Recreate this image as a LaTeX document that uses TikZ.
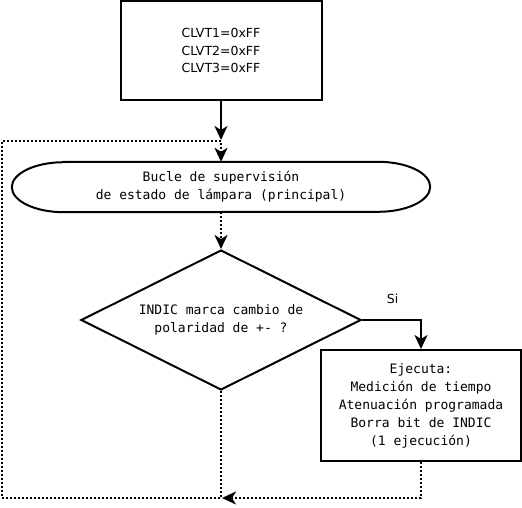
\documentclass[tikz,border=0pt]{standalone}
\usepackage{fontspec}
\usepackage{tikz}
\usetikzlibrary{shapes.geometric, shapes.misc, arrows.meta}
\usetikzlibrary{positioning}
\newfontfamily\monofont{DejaVu Sans Mono}
\newfontfamily\plainfont{DejaVu Sans}
\tikzset{font={\monofont\fontsize{13}{18}\selectfont}}
\tikzset{
	flow_line/.style={line width=2pt},
	flow_arrow/.style={flow_line, -{Stealth[length=14pt, width=13pt, inset=4pt]}},
	loop_line/.style={line width=2pt, dash pattern=on 2pt off 2pt},
	loop_arrow/.style={loop_line, -{Stealth[length=14pt, width=13pt, inset=4pt]}},
	block/.style={rectangle, draw, line width=2pt, align=center, inner sep=0pt}
}

\begin{document}
\begin{tikzpicture}[x=1pt, y=1pt]

	\useasboundingbox (0,0) rectangle (522,-508);

	
	\node (init_box) [block, minimum width=201, minimum height=99, font={\plainfont\fontsize{12.5}{17.5}\selectfont}] at (221,-50.5) {CLVT1=0xFF\\CLVT2=0xFF\\CLVT3=0xFF};

	
	\node (main_loop) [align=center, minimum width=418, minimum height=50, inner sep=0pt] at (221,-187) {Bucle de supervisión\\de estado de lámpara (principal)};

	\draw[flow_line] ([xshift=52]main_loop.north west)

	-- ([xshift=-52]main_loop.north east)

	arc[start angle=90, end angle=-90, x radius=52, y radius=25]

	-- ([xshift=52]main_loop.south west)

	arc[start angle=270, end angle=90, x radius=52, y radius=25]

	-- cycle;

	
	\node (polarity_check) [diamond, draw, line width=2pt, align=center, inner sep=0pt, minimum width=280, minimum height=140, aspect=2] at (221,-320) {INDIC marca cambio de\\polaridad de +- ?};

	
	\node (exec_box) [block, minimum width=200, minimum height=111] at (421,-405.5) {Ejecuta:\\Medición de tiempo\\Atenuación programada\\Borra bit de INDIC\\(1 ejecución)};

	
	\coordinate (top_join) at (221,-141);

	\coordinate (bottom_join) at (221,-498);

	\coordinate (corner_bl) at (2,-498);

	\coordinate (corner_tl) at (2,-141);

	
	\draw[flow_arrow] (init_box.south) -- ([yshift=1]top_join);

	\draw[loop_arrow] (polarity_check.south)

	-- (bottom_join)

	-- (corner_bl)

	-- (corner_tl)

	-- (top_join)

	-- (main_loop.north);

	
	\draw[loop_arrow] (main_loop.south) -- (polarity_check.north);

	
	\draw[flow_arrow] (polarity_check.east)

	-| (exec_box.north)

	node[pos=0.26, above=12pt, font={\plainfont\fontsize{12.5}{14}\selectfont}] {Si};

	
	\draw[loop_arrow] (exec_box.south) |- ([xshift=1]bottom_join);

\end{tikzpicture}
\end{document}
